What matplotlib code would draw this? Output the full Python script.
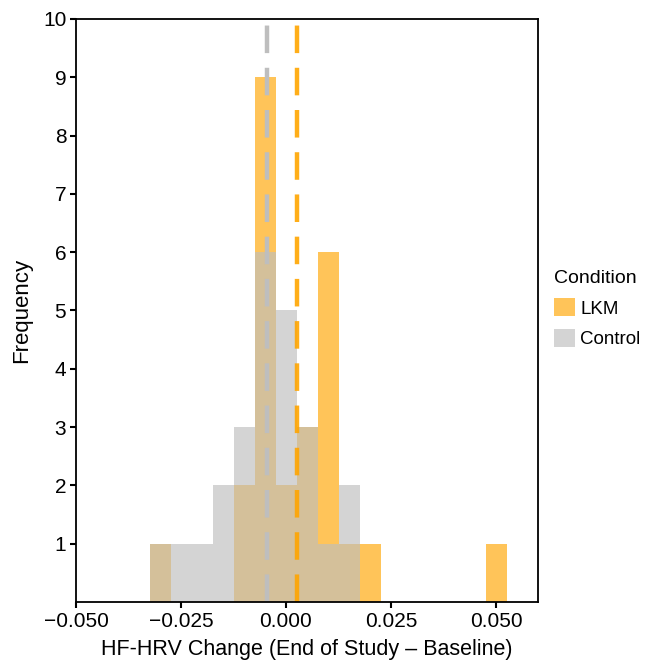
import matplotlib
matplotlib.use("Agg")
import matplotlib.pyplot as plt
from matplotlib.patches import Patch

plt.rcParams['font.family'] = ['Liberation Sans Narrow', 'Liberation Sans', 'DejaVu Sans']

# histogram bins (centres, width 0.005)
bin_centers = [-0.030, -0.025, -0.020, -0.015, -0.010, -0.005, 0.000, 0.005,
               0.010, 0.015, 0.020, 0.025, 0.030, 0.035, 0.040, 0.045, 0.050]
lkm_counts = [1, 0, 0, 0, 2, 9, 2, 3, 6, 1, 1, 0, 0, 0, 0, 0, 1]
control_counts = [1, 1, 1, 2, 3, 6, 5, 3, 1, 2, 0, 0, 0, 0, 0, 0, 0]

# group means (dashed lines)
lkm_mean = 0.0027
control_mean = -0.0045

x_ticks = [-0.050, -0.025, 0.000, 0.025, 0.050]
x_tick_labels = ['\u22120.050', '\u22120.025', '0.000', '0.025', '0.050']
y_ticks = [1, 2, 3, 4, 5, 6, 7, 8, 9, 10]

orange = '#FFA500'
grey = '#BEBEBE'

fig = plt.figure(figsize=(6.46, 6.70), dpi=100)
ax = fig.add_axes([76 / 646, 1 - 602 / 670, (538 - 76) / 646, (602 - 19) / 670])

ax.bar(bin_centers, lkm_counts, width=0.005, color=orange, alpha=0.65, linewidth=0)
ax.bar(bin_centers, control_counts, width=0.005, color=grey, alpha=0.65, linewidth=0)

ax.axvline(control_mean, color=grey, lw=3.2, dashes=(6.2, 3.3))
ax.axvline(lkm_mean, color=orange, lw=3.2, dashes=(6.2, 3.3), alpha=0.9)

ax.set_xlim(-0.050, 0.060)
ax.set_ylim(0, 10)
ax.set_xticks(x_ticks)
ax.set_xticklabels(x_tick_labels)
ax.set_yticks(y_ticks)
ax.tick_params(labelsize=15, length=4, width=1.5, color='black', pad=3)
for s in ax.spines.values():
    s.set_linewidth(1.3)
    s.set_color('black')

ax.set_xlabel('HF-HRV Change (End of Study \u2013 Baseline)', fontsize=15.5, labelpad=6)
ax.set_ylabel('Frequency', fontsize=16, labelpad=8)

handles = [Patch(facecolor=orange, alpha=0.65, edgecolor='none'),
           Patch(facecolor=grey, alpha=0.65, edgecolor='none')]
leg = fig.legend(handles, ['LKM', 'Control'], title='Condition',
                 loc='upper left', bbox_to_anchor=(554 / 646, 1 - 270 / 670),
                 frameon=False, fontsize=13.5, title_fontsize=14,
                 handlelength=1.1, handleheight=1.1, handletextpad=0.3,
                 labelspacing=0.6, alignment='left', borderaxespad=0,
                 borderpad=0)

fig.savefig('out.png', dpi=100)
